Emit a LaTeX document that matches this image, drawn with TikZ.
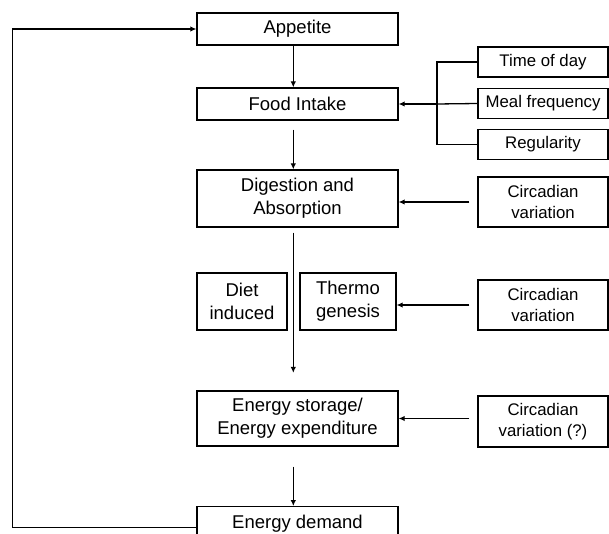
\documentclass[tikz,border=0pt]{standalone}
\usepackage{fontspec}
\setmainfont{Liberation Sans}
\usetikzlibrary{arrows.meta}
\begin{document}
\begin{tikzpicture}[x=1pt,y=-1pt,
  box/.style={draw, line width=1.3pt, inner sep=0pt, align=center, font=\fontsize{18.5}{23.3}\selectfont},
  sbox/.style={draw, line width=1.3pt, inner sep=0pt, align=center, minimum width=130pt, font=\fontsize{16.8}{21}\selectfont},
  arr/.style={line width=1.3pt, -{Latex[length=6pt,width=5.5pt]}},
  conn/.style={line width=1.3pt}]
\useasboundingbox (0,0) rectangle (609,534);
\clip (0,0) rectangle (609,534);
% main column
\node[box, minimum width=201pt, minimum height=32pt] (app) at (297.5,29) {Appetite};
\node[box, minimum width=201pt, minimum height=32pt] (food) at (297.5,104) {Food Intake};
\node[box, minimum width=201pt, minimum height=57pt] (dig) at (297.5,198.5) {Digestion and\\Absorption};
\node[box, minimum width=90pt, minimum height=57pt] (diet) at (242,301.5) {Diet\\induced};
\node[box, minimum width=96pt, minimum height=57pt] (thermo) at (348,301.5) {Thermo\\genesis};
\node[box, minimum width=201pt, minimum height=55pt] (store) at (297.5,418.5) {Energy storage/\\Energy expenditure};
\node[box, minimum width=201pt, minimum height=34pt] (demand) at (297.5,523.7) {Energy demand};
% right column
\node[sbox, minimum height=30pt] (tod) at (543,62) {Time of day};
\node[sbox, minimum height=30pt] (meal) at (543,103.5) {Meal frequency};
\node[sbox, minimum height=30pt] (reg) at (543,144.5) {Regularity};
\node[sbox, minimum height=50pt] (c1) at (543,202) {Circadian\\variation};
\node[sbox, minimum height=50pt] (c2) at (543,305) {Circadian\\variation};
\node[sbox, minimum height=51pt] (c3) at (543,421.5) {Circadian\\variation (?)};
% bracket
\coordinate (br) at (437,104);
\draw[conn] (tod.west) -| (br) |- (reg.west);
\draw[conn] (meal.west) -- (br);
\draw[arr] (br) -- (food.east);
% circadian arrows
\draw[arr] ([xshift=-8pt]c1.west) -- (dig.east |- c1.west);
\draw[arr] ([xshift=-8pt]c2.west) -- (thermo.east |- c2.west);
\draw[arr] ([xshift=-8pt]c3.west |- store.east) -- (store.east);
% vertical arrows
\draw[arr] ([xshift=-4.2pt]app.south) -- ([xshift=-4.2pt]food.north);
\draw[arr] ([xshift=-4.2pt,yshift=-9pt]food.south) -- ([xshift=-4.2pt]dig.north);
\draw[arr] ([xshift=-4.2pt,yshift=-5pt]dig.south) -- ([xshift=-4.2pt,yshift=17.5pt]store.north);
\draw[arr] ([xshift=-4.2pt,yshift=-20pt]store.south) -- ([xshift=-4.2pt]demand.north);
% feedback loop
\coordinate (fb) at (12.7,29);
\draw[arr] ([yshift=-3.6pt]demand.west) -| (fb) -- (app.west);
\end{tikzpicture}
\end{document}
